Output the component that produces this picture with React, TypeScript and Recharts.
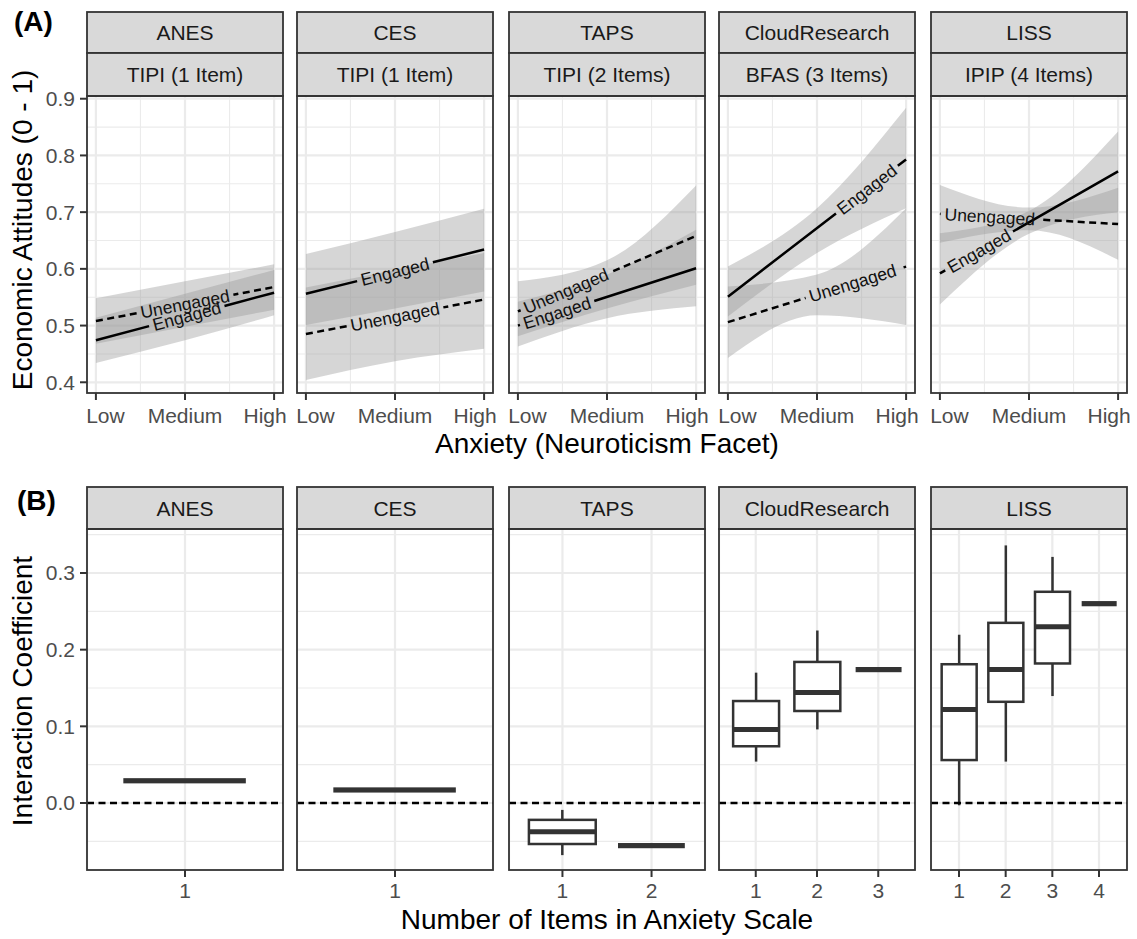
import {
  ComposedChart,
  Area,
  Line,
  Bar,
  XAxis,
  YAxis,
  CartesianGrid,
  ReferenceLine,
} from "recharts";

// ---- data ----

const studies = ["ANES", "CES", "TAPS", "CloudResearch", "LISS"];
const scaleLabels = [
  "TIPI (1 Item)",
  "TIPI (1 Item)",
  "TIPI (2 Items)",
  "BFAS (3 Items)",
  "IPIP (4 Items)",
];
const anxietyLevels = ["Low", "Medium", "High"];
const anxietyX = [0, 1, 2];

// fitted lines, [Low, High]
const engagedFit = [
  [0.474, 0.558],
  [0.556, 0.634],
  [0.5, 0.601],
  [0.551, 0.793],
  [0.592, 0.772],
];
const unengagedFit = [
  [0.508, 0.568],
  [0.485, 0.546],
  [0.525, 0.658],
  [0.506, 0.604],
  [0.697, 0.679],
];

// confidence bands, [Low, Medium, High]
const engagedLower = [
  [0.434, 0.474, 0.518],
  [0.501, 0.53, 0.56],
  [0.463, 0.513, 0.534],
  [0.516, 0.628, 0.707],
  [0.537, 0.662, 0.7],
];
const engagedUpper = [
  [0.514, 0.556, 0.598],
  [0.626, 0.665, 0.706],
  [0.542, 0.59, 0.669],
  [0.604, 0.707, 0.884],
  [0.663, 0.702, 0.842],
];
const unengagedLower = [
  [0.468, 0.498, 0.528],
  [0.404, 0.437, 0.459],
  [0.481, 0.53, 0.572],
  [0.443, 0.518, 0.501],
  [0.646, 0.668, 0.616],
];
const unengagedUpper = [
  [0.548, 0.578, 0.608],
  [0.567, 0.598, 0.628],
  [0.578, 0.615, 0.747],
  [0.569, 0.59, 0.707],
  [0.748, 0.708, 0.743],
];

// where the direct labels sit along each line (0 = Low, 1 = High)
const engagedLabelAt = [0.51, 0.5, 0.22, 0.78, 0.22];
const unengagedLabelAt = [0.5, 0.5, 0.27, 0.7, 0.28];

// panel B: interaction coefficients by number of items
const boxItems = [[1], [1], [1, 2], [1, 2, 3], [1, 2, 3, 4]];
const whiskerLow = [[0.029], [0.017], [-0.068, -0.0556], [0.054, 0.096, 0.174], [-0.003, 0.054, 0.1395, 0.26]];
const quartile1 = [[0.029], [0.017], [-0.0535, -0.0556], [0.074, 0.12, 0.174], [0.056, 0.132, 0.182, 0.26]];
const medians = [[0.029], [0.017], [-0.0374, -0.0556], [0.096, 0.144, 0.174], [0.122, 0.174, 0.23, 0.26]];
const quartile3 = [[0.029], [0.017], [-0.022, -0.0556], [0.133, 0.184, 0.174], [0.181, 0.235, 0.2755, 0.26]];
const whiskerHigh = [[0.029], [0.017], [-0.009, -0.0556], [0.17, 0.225, 0.174], [0.2195, 0.336, 0.321, 0.26]];

const topMajorY = [0.4, 0.5, 0.6, 0.7, 0.8, 0.9];
const topMinorY = [0.45, 0.55, 0.65, 0.75, 0.85];
const topMinorX = [0.5, 1.5];
const botMajorY = [0, 0.1, 0.2, 0.3];
const botMinorY = [-0.05, 0.05, 0.15, 0.25, 0.35];

// ---- layout ----

const FONT = '"Liberation Sans", Arial, Helvetica, sans-serif';
const PANEL_LEFT = [87, 297, 509, 719, 931];
const PANEL_W = 196;
const TOP_PLOT_Y = 96;
const TOP_PLOT_H = 297;
const BOT_PLOT_Y = 529;
const BOT_PLOT_H = 341;
const TOP_Y_DOMAIN = [0.3811, 0.9048];
const TOP_X_DOMAIN = [-0.1, 2.1];
const BOT_Y_DOMAIN = [-0.0874, 0.3574];
const Y_AXIS_W = 70;
const X_AXIS_H = 45;
const PAD_TOP = 16;
const PAD_RIGHT = 30;
const LABEL_SIZE = 17.5;
const TICK_SIZE = 21;
const TITLE_SIZE = 28;
const BORDER = "#333333";
const GRID = "#EBEBEB";

const PX_PER_X = PANEL_W / (TOP_X_DOMAIN[1] - TOP_X_DOMAIN[0]);
const PX_PER_Y = TOP_PLOT_H / (TOP_Y_DOMAIN[1] - TOP_Y_DOMAIN[0]);

let measureCtx: CanvasRenderingContext2D | null = null;
function textWidth(s: string, size: number) {
  if (!measureCtx) measureCtx = document.createElement("canvas").getContext("2d");
  if (!measureCtx) return s.length * size * 0.55;
  measureCtx.font = `${size}px "Liberation Sans"`;
  return measureCtx.measureText(s).width;
}

// dash pattern that leaves a hole where the label goes
function dashWithGap(L: number, gs: number, ge: number, dash: number, space: number) {
  const on: [number, number][] = [];
  const period = dash + space;
  for (let a = 0; a < L; a += period) {
    const b = Math.min(a + dash, L);
    if (b <= gs || a >= ge) on.push([a, b]);
    else {
      if (a < gs) on.push([a, gs]);
      if (b > ge) on.push([ge, b]);
    }
  }
  const arr: number[] = [];
  if (on.length && on[0][0] > 0) arr.push(0, on[0][0]);
  on.forEach(([a, b], k) => {
    arr.push(b - a);
    const next = k + 1 < on.length ? on[k + 1][0] : L + 1000;
    arr.push(next - b);
  });
  return arr.map((v) => v.toFixed(2)).join(" ");
}

function lineGeom(fit: number[], text: string, t: number, dashed: boolean) {
  const dx = (anxietyX[2] - anxietyX[0]) * PX_PER_X;
  const dy = -(fit[1] - fit[0]) * PX_PER_Y;
  const L = Math.hypot(dx, dy);
  const w = textWidth(text, LABEL_SIZE) + 8;
  const gs = t * L - w / 2;
  const dasharray = dashed
    ? dashWithGap(L, gs, gs + w, 7, 4.5)
    : dashWithGap(L, gs, gs + w, L, 0);
  return { dx, dy, t, text, dasharray };
}

const labelDot = (g: ReturnType<typeof lineGeom>) => (p: any) => {
  if (p.index !== 0) return <g key={`d${p.index}`} />;
  const lx = p.cx + g.t * g.dx;
  const ly = p.cy + g.t * g.dy;
  const ang = (Math.atan2(g.dy, g.dx) * 180) / Math.PI;
  return (
    <text
      key="lbl"
      x={lx}
      y={ly}
      dy="0.35em"
      textAnchor="middle"
      transform={`rotate(${ang.toFixed(2)} ${lx} ${ly})`}
      fontSize={LABEL_SIZE}
      fontFamily={FONT}
      fill="#111"
    >
      {g.text}
    </text>
  );
};

function LevelTick(props: any) {
  const { x, y, payload } = props;
  const v = payload.value;
  const shift = v === 0 ? 9.5 : v === 2 ? -9 : 0;
  return (
    <text x={x + shift} y={y} dy="0.71em" textAnchor="middle" fill="#4D4D4D" fontSize={TICK_SIZE} fontFamily={FONT}>
      {anxietyLevels[v]}
    </text>
  );
}

function TopPanel({ i }: { i: number }) {
  const first = i === 0;
  const yw = first ? Y_AXIS_W : 0;
  const w = PANEL_W + yw + PAD_RIGHT;
  const h = PAD_TOP + TOP_PLOT_H + X_AXIS_H;
  const bandE = anxietyX.map((x, k) => ({ x, lo: engagedLower[i][k], hi: engagedUpper[i][k] }));
  const bandU = anxietyX.map((x, k) => ({ x, lo: unengagedLower[i][k], hi: unengagedUpper[i][k] }));
  const lineE = [
    { x: anxietyX[0], y: engagedFit[i][0] },
    { x: anxietyX[2], y: engagedFit[i][1] },
  ];
  const lineU = [
    { x: anxietyX[0], y: unengagedFit[i][0] },
    { x: anxietyX[2], y: unengagedFit[i][1] },
  ];
  const gE = lineGeom(engagedFit[i], "Engaged", engagedLabelAt[i], false);
  const gU = lineGeom(unengagedFit[i], "Unengaged", unengagedLabelAt[i], true);

  return (
    <div style={{ position: "absolute", left: PANEL_LEFT[i] - yw, top: TOP_PLOT_Y - PAD_TOP, width: w, height: h }}>
      <ComposedChart width={w} height={h} margin={{ top: PAD_TOP, right: PAD_RIGHT, bottom: 0, left: 0 }}>
        <CartesianGrid stroke={GRID} strokeWidth={1.1} horizontalValues={topMinorY} verticalValues={topMinorX} />
        <CartesianGrid stroke={GRID} strokeWidth={2.2} horizontalValues={topMajorY} verticalValues={anxietyX} />
        <XAxis
          type="number"
          dataKey="x"
          domain={TOP_X_DOMAIN}
          ticks={anxietyX}
          interval={0}
          allowDataOverflow
          height={X_AXIS_H}
          axisLine={false}
          tickSize={7}
          tickMargin={8}
          tickLine={{ stroke: BORDER, strokeWidth: 2 }}
          tick={(p: any) => <LevelTick {...p} />}
        />
        <YAxis
          type="number"
          domain={TOP_Y_DOMAIN}
          ticks={topMajorY}
          interval={0}
          allowDataOverflow
          hide={!first}
          width={yw}
          axisLine={false}
          tickSize={7}
          tickMargin={5}
          tickLine={{ stroke: BORDER, strokeWidth: 2 }}
          tickFormatter={(v: number) => v.toFixed(1)}
          tick={{ fill: "#4D4D4D", fontSize: TICK_SIZE, fontFamily: FONT }}
        />
        <Area
          data={bandU}
          dataKey={(d: any) => [d.lo, d.hi]}
          type="monotone"
          stroke="none"
          fill="#999999"
          fillOpacity={0.4}
          isAnimationActive={false}
          activeDot={false}
        />
        <Area
          data={bandE}
          dataKey={(d: any) => [d.lo, d.hi]}
          type="monotone"
          stroke="none"
          fill="#999999"
          fillOpacity={0.4}
          isAnimationActive={false}
          activeDot={false}
        />
        <Line
          data={lineU}
          dataKey="y"
          type="linear"
          stroke="#000"
          strokeWidth={2.5}
          strokeDasharray={gU.dasharray}
          dot={labelDot(gU)}
          activeDot={false}
          isAnimationActive={false}
        />
        <Line
          data={lineE}
          dataKey="y"
          type="linear"
          stroke="#000"
          strokeWidth={2.5}
          strokeDasharray={gE.dasharray}
          dot={labelDot(gE)}
          activeDot={false}
          isAnimationActive={false}
        />
      </ComposedChart>
    </div>
  );
}

function BoxShape(props: any) {
  const { x, y, width, height, payload } = props;
  const top = Math.min(y, y + height);
  const h = Math.abs(height);
  const span = payload.whi - payload.wlo;
  if (!(span > 0) || !(h > 0)) {
    return <rect x={x} y={top - 2.6} width={width} height={5.2} fill={BORDER} />;
  }
  const k = h / span;
  const py = (v: number) => top + (payload.whi - v) * k;
  const cx = x + width / 2;
  return (
    <g>
      <line x1={cx} x2={cx} y1={py(payload.whi)} y2={py(payload.wlo)} stroke={BORDER} strokeWidth={2.5} />
      <rect
        x={x}
        y={py(payload.q3)}
        width={width}
        height={py(payload.q1) - py(payload.q3)}
        fill="#fff"
        stroke={BORDER}
        strokeWidth={2.5}
      />
      <line x1={x} x2={x + width} y1={py(payload.med)} y2={py(payload.med)} stroke={BORDER} strokeWidth={5} />
    </g>
  );
}

function BottomPanel({ i }: { i: number }) {
  const first = i === 0;
  const yw = first ? Y_AXIS_W : 0;
  const w = PANEL_W + yw + PAD_RIGHT;
  const h = PAD_TOP + BOT_PLOT_H + X_AXIS_H;
  const n = boxItems[i].length;
  const step = PANEL_W / (n + 0.2);
  const rows = boxItems[i].map((it, k) => ({
    items: String(it),
    wlo: whiskerLow[i][k],
    q1: quartile1[i][k],
    med: medians[i][k],
    q3: quartile3[i][k],
    whi: whiskerHigh[i][k],
  }));
  return (
    <div style={{ position: "absolute", left: PANEL_LEFT[i] - yw, top: BOT_PLOT_Y - PAD_TOP, width: w, height: h }}>
      <ComposedChart data={rows} width={w} height={h} margin={{ top: PAD_TOP, right: PAD_RIGHT, bottom: 0, left: 0 }}>
        <CartesianGrid stroke={GRID} strokeWidth={1.1} vertical={false} horizontalValues={botMinorY} />
        <CartesianGrid stroke={GRID} strokeWidth={2.2} horizontalValues={botMajorY} />
        <XAxis
          dataKey="items"
          type="category"
          padding={{ left: step * 0.1, right: step * 0.1 }}
          interval={0}
          height={X_AXIS_H}
          axisLine={false}
          tickSize={7}
          tickMargin={6}
          tickLine={{ stroke: BORDER, strokeWidth: 2 }}
          tick={{ fill: "#4D4D4D", fontSize: TICK_SIZE, fontFamily: FONT }}
        />
        <YAxis
          type="number"
          domain={BOT_Y_DOMAIN}
          ticks={botMajorY}
          interval={0}
          allowDataOverflow
          hide={!first}
          width={yw}
          axisLine={false}
          tickSize={7}
          tickMargin={5}
          tickLine={{ stroke: BORDER, strokeWidth: 2 }}
          tickFormatter={(v: number) => v.toFixed(1)}
          tick={{ fill: "#4D4D4D", fontSize: TICK_SIZE, fontFamily: FONT }}
        />
        <ReferenceLine y={0} stroke="#000" strokeWidth={2.5} strokeDasharray="7 4.5" />
        <Bar
          dataKey={(d: any) => [d.wlo, d.whi]}
          barSize={step * 0.75}
          minPointSize={0}
          shape={(p: any) => <BoxShape {...p} />}
          isAnimationActive={false}
        />
      </ComposedChart>
    </div>
  );
}

function Strip({ x, y, h, label }: { x: number; y: number; h: number; label: string }) {
  return (
    <g>
      <rect x={x} y={y} width={PANEL_W} height={h} fill="#D9D9D9" stroke={BORDER} strokeWidth={1.8} />
      <text
        x={x + PANEL_W / 2}
        y={y + h / 2}
        dy="0.36em"
        textAnchor="middle"
        fontSize={21}
        fontFamily={FONT}
        fill="#1A1A1A"
      >
        {label}
      </text>
    </g>
  );
}

export default function App() {
  return (
    <div
      style={{
        position: "absolute",
        left: 0,
        top: 0,
        width: 1137,
        height: 939,
        background: "#fff",
        fontFamily: FONT,
        overflow: "hidden",
      }}
    >
      {studies.map((s, i) => (
        <TopPanel key={`t${s}`} i={i} />
      ))}
      {studies.map((s, i) => (
        <BottomPanel key={`b${s}`} i={i} />
      ))}
      <svg
        width={1137}
        height={939}
        style={{ position: "absolute", left: 0, top: 0, pointerEvents: "none" }}
      >
        {studies.map((s, i) => (
          <g key={s}>
            <Strip x={PANEL_LEFT[i]} y={12} h={41} label={s} />
            <Strip x={PANEL_LEFT[i]} y={53} h={43} label={scaleLabels[i]} />
            <rect x={PANEL_LEFT[i]} y={TOP_PLOT_Y} width={PANEL_W} height={TOP_PLOT_H} fill="none" stroke={BORDER} strokeWidth={1.8} />
            <Strip x={PANEL_LEFT[i]} y={487} h={42} label={s} />
            <rect x={PANEL_LEFT[i]} y={BOT_PLOT_Y} width={PANEL_W} height={BOT_PLOT_H} fill="none" stroke={BORDER} strokeWidth={1.8} />
          </g>
        ))}
        <text x={14} y={31} fontSize={28} fontWeight="bold" fontFamily={FONT} fill="#000">
          (A)
        </text>
        <text x={17} y={510} fontSize={28} fontWeight="bold" fontFamily={FONT} fill="#000">
          (B)
        </text>
        <text x={607} y={453} textAnchor="middle" fontSize={TITLE_SIZE} fontFamily={FONT} fill="#000">
          Anxiety (Neuroticism Facet)
        </text>
        <text x={607} y={929} textAnchor="middle" fontSize={TITLE_SIZE} fontFamily={FONT} fill="#000">
          Number of Items in Anxiety Scale
        </text>
        <text x={32} y={230} textAnchor="middle" transform="rotate(-90 32 230)" fontSize={TITLE_SIZE} fontFamily={FONT} fill="#000">
          Economic Attitudes (0 - 1)
        </text>
        <text x={32} y={691} textAnchor="middle" transform="rotate(-90 32 691)" fontSize={TITLE_SIZE} fontFamily={FONT} fill="#000">
          Interaction Coefficient
        </text>
      </svg>
    </div>
  );
}
